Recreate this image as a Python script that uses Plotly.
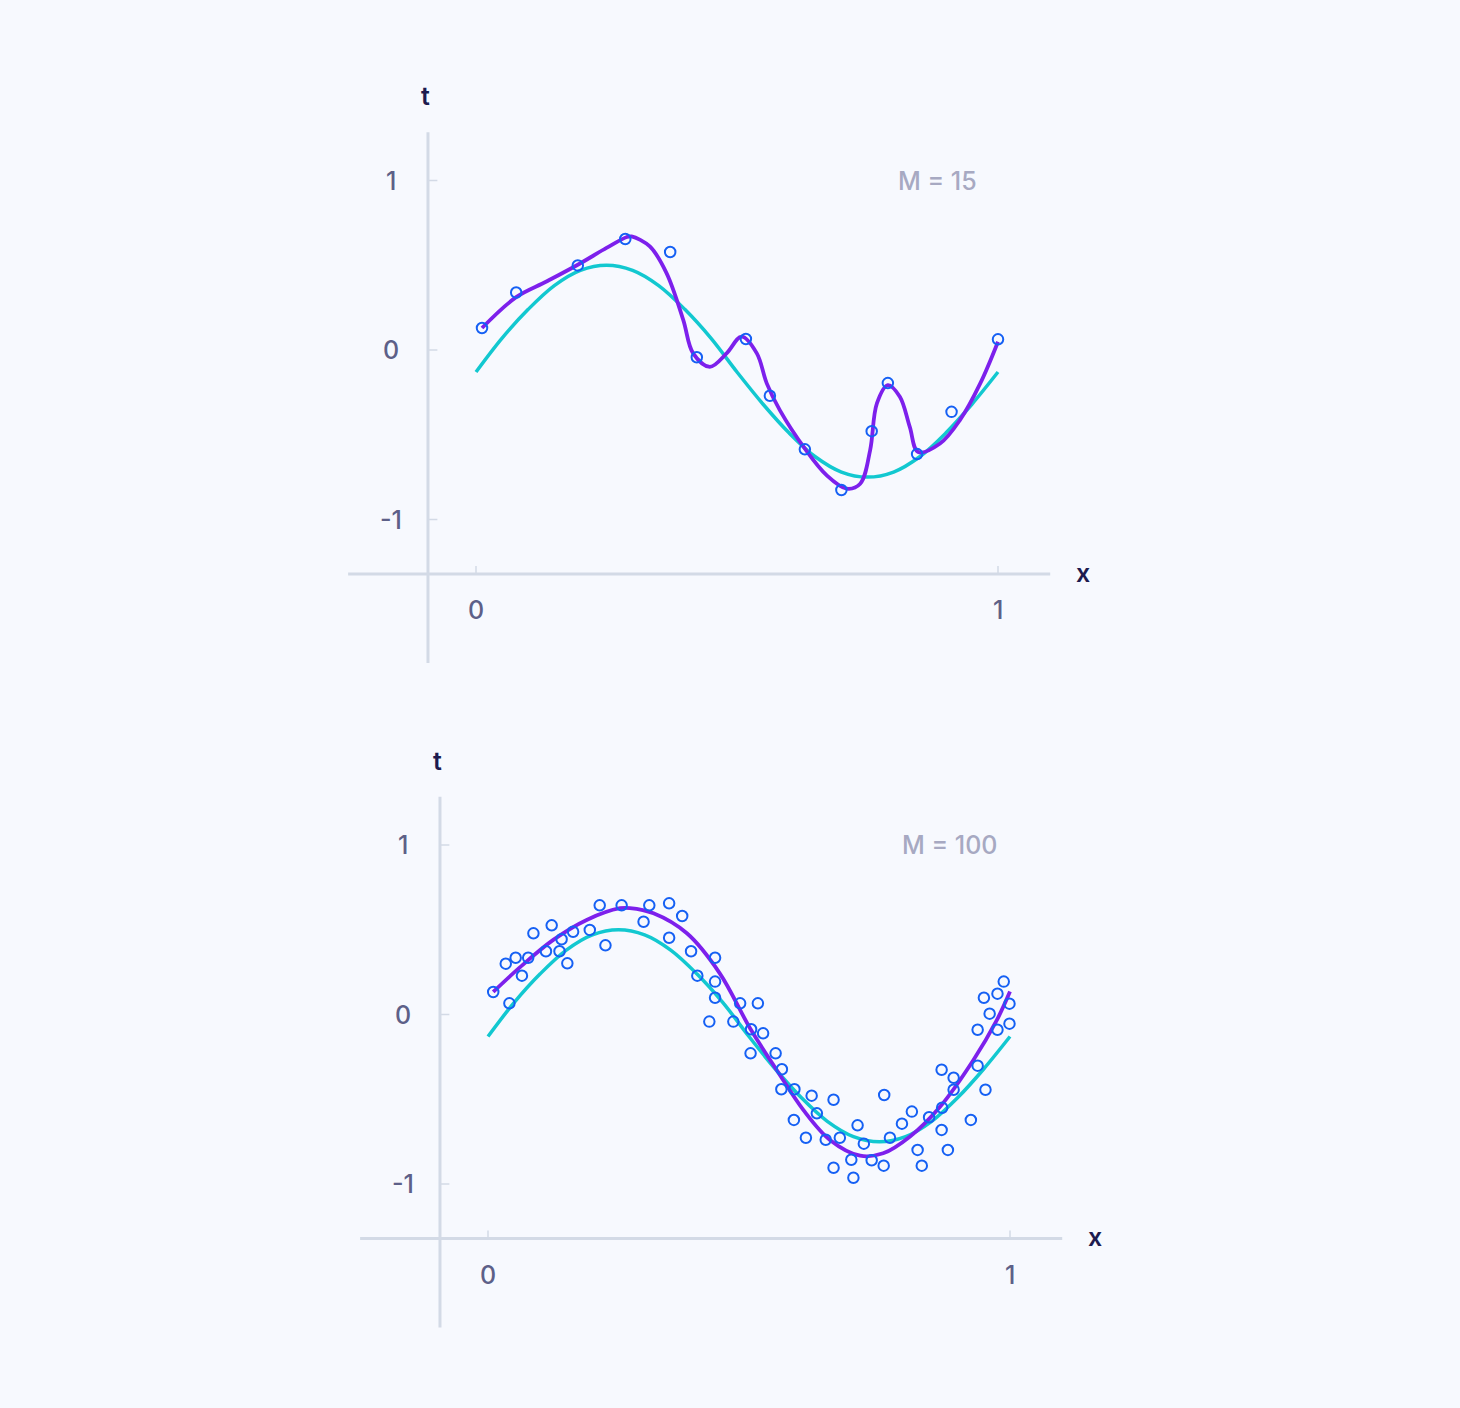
import plotly.graph_objects as go

# ---- data ----
# true curve (teal), same in both panels
true_x = [0.0, 0.05, 0.1, 0.15, 0.2, 0.25, 0.3, 0.35, 0.4, 0.45, 0.5,
          0.55, 0.6, 0.65, 0.7, 0.75, 0.8, 0.85, 0.9, 0.95, 1.0]
true_t = [-0.13, 0.07, 0.24, 0.38, 0.47, 0.50, 0.47, 0.38, 0.24, 0.07, -0.13,
          -0.32, -0.49, -0.63, -0.72, -0.75, -0.72, -0.63, -0.49, -0.32, -0.13]

# top panel: 15 samples and the overfitted fit
obs15_x = [0.0115, 0.077, 0.195, 0.286, 0.372, 0.423, 0.517, 0.563,
           0.630, 0.700, 0.758, 0.789, 0.845, 0.911, 1.0]
obs15_t = [0.130, 0.339, 0.499, 0.655, 0.578, -0.043, 0.065, -0.270,
           -0.586, -0.826, -0.479, -0.195, -0.614, -0.365, 0.063]

fit15_x = [0.0115, 0.077, 0.135, 0.195, 0.250, 0.289, 0.298, 0.333, 0.365,
           0.397, 0.416, 0.448, 0.480, 0.509, 0.538, 0.557, 0.582, 0.630,
           0.672, 0.710, 0.736, 0.755, 0.768, 0.789, 0.812, 0.831, 0.847,
           0.889, 0.927, 0.966, 1.0]
fit15_t = [0.130, 0.312, 0.404, 0.503, 0.602, 0.667, 0.670, 0.611, 0.454,
           0.178, -0.020, -0.099, -0.020, 0.079, -0.020, -0.197, -0.355, -0.582,
           -0.740, -0.818, -0.789, -0.592, -0.315, -0.207, -0.276, -0.454, -0.602,
           -0.552, -0.414, -0.197, 0.049]

# bottom panel: many samples and the smooth fit
obs100_x = [0.010, 0.041, 0.034, 0.053, 0.077, 0.065, 0.087, 0.122, 0.111, 0.141,
            0.137, 0.152, 0.163, 0.195, 0.214, 0.225, 0.256, 0.298, 0.309, 0.347,
            0.347, 0.372, 0.389, 0.401, 0.435, 0.435, 0.435, 0.424, 0.470, 0.483,
            0.503, 0.517, 0.504, 0.527, 0.551, 0.563, 0.562, 0.587, 0.620, 0.662,
            0.630, 0.586, 0.609, 0.647, 0.674, 0.708, 0.720, 0.662, 0.696, 0.700,
            0.735, 0.758, 0.759, 0.770, 0.793, 0.812, 0.845, 0.823, 0.831, 0.869,
            0.892, 0.892, 0.870, 0.869, 0.881, 0.925, 0.953, 0.938, 0.938, 0.950,
            0.961, 0.976, 0.976, 0.988, 0.999, 0.999]
obs100_t = [0.133, 0.066, 0.300, 0.335, 0.335, 0.229, 0.479, 0.526, 0.373, 0.444,
            0.373, 0.302, 0.488, 0.499, 0.644, 0.408, 0.644, 0.547, 0.644, 0.656,
            0.453, 0.581, 0.373, 0.229, 0.335, 0.194, 0.099, -0.042, -0.042, 0.066,
            -0.229, 0.066, -0.087, -0.111, -0.229, -0.323, -0.441, -0.441, -0.479, -0.503,
            -0.583, -0.622, -0.727, -0.739, -0.727, -0.654, -0.762, -0.904, -0.857, -0.963,
            -0.860, -0.892, -0.475, -0.727, -0.644, -0.573, -0.606, -0.799, -0.892, -0.326,
            -0.373, -0.444, -0.550, -0.681, -0.799, -0.622, -0.444, -0.302, -0.090, 0.099,
            0.005, -0.090, 0.123, 0.194, 0.064, -0.054]

fit100_x = [0.010, 0.061, 0.125, 0.189, 0.253, 0.272, 0.317, 0.381, 0.444, 0.502,
            0.553, 0.604, 0.655, 0.713, 0.757, 0.808, 0.866, 0.930, 0.975, 1.0]
fit100_t = [0.133, 0.278, 0.440, 0.558, 0.627, 0.628, 0.597, 0.479, 0.243, -0.081,
            -0.327, -0.563, -0.740, -0.833, -0.819, -0.721, -0.544, -0.268, -0.032, 0.135]

panel_labels = ['M = 15', 'M = 100']
ytick_vals = [1, 0, -1]
ytick_text = ['1', '0', '-1']
xtick_vals = [0, 1]
xtick_text = ['0', '1']

TEAL = '#12c8d0'
PURPLE = '#7d20ec'
BLUE = '#1560f4'
AXIS = '#d3dae6'
TICKTXT = '#5d6088'
TITLETXT = '#1d1b4f'
BG = '#f7f9fe'
FONT = 'Inter'

W, H = 1460, 1408
XR = [-0.3, 1.25]
YR = [-1.9, 1.6]

fig = go.Figure()

panels = [
    ('x', 'y', obs15_x, obs15_t, fit15_x, fit15_t),
    ('x2', 'y2', obs100_x, obs100_t, fit100_x, fit100_t),
]

for xa, ya, ox, ot, fx, ft in panels:
    fig.add_trace(go.Scatter(x=true_x, y=true_t, mode='lines', xaxis=xa, yaxis=ya,
                             line=dict(color=TEAL, width=3.5, shape='spline', smoothing=1.0),
                             hoverinfo='skip', showlegend=False))
    fig.add_trace(go.Scatter(x=fx, y=ft, mode='lines', xaxis=xa, yaxis=ya,
                             line=dict(color=PURPLE, width=3.8, shape='spline', smoothing=1.0),
                             hoverinfo='skip', showlegend=False))
    fig.add_trace(go.Scatter(x=ox, y=ot, mode='markers', xaxis=xa, yaxis=ya,
                             marker=dict(symbol='circle-open', size=10.5, color=BLUE,
                                         line=dict(width=2, color=BLUE)),
                             showlegend=False))

shapes = []
annotations = []
for i, (xa, ya) in enumerate([('x', 'y'), ('x2', 'y2')]):
    # axis lines
    shapes.append(dict(type='line', xref=xa, yref=ya, x0=-0.092, x1=-0.092, y0=-1.846, y1=1.284,
                       line=dict(color=AXIS, width=3), layer='below'))
    shapes.append(dict(type='line', xref=xa, yref=ya, x0=-0.245, x1=1.100, y0=-1.322, y1=-1.322,
                       line=dict(color=AXIS, width=3), layer='below'))
    for v, t in zip(ytick_vals, ytick_text):
        shapes.append(dict(type='line', xref=xa, yref=ya, x0=-0.092, x1=-0.074, y0=v, y1=v,
                           line=dict(color=AXIS, width=1.5), layer='below'))
        annotations.append(dict(xref=xa, yref=ya, x=-0.163, y=v, text=t, showarrow=False,
                                font=dict(family=FONT, size=25, color=TICKTXT, weight=500)))
    for v, t in zip(xtick_vals, xtick_text):
        shapes.append(dict(type='line', xref=xa, yref=ya, x0=v, x1=v, y0=-1.322, y1=-1.275,
                           line=dict(color=AXIS, width=1.5), layer='below'))
        annotations.append(dict(xref=xa, yref=ya, x=v, y=-1.535, text=t, showarrow=False,
                                font=dict(family=FONT, size=25, color=TICKTXT, weight=500)))
    annotations.append(dict(xref=xa, yref=ya, x=-0.096, y=1.497, text='t', showarrow=False,
                            font=dict(family=FONT, size=25, color=TITLETXT, weight=600)))
    annotations.append(dict(xref=xa, yref=ya, x=1.163, y=-1.314, text='x', showarrow=False,
                            font=dict(family=FONT, size=25, color=TITLETXT, weight=600)))
    annotations.append(dict(xref=xa, yref=ya, x=0.885, y=1.0, text=panel_labels[i], showarrow=False,
                            font=dict(family=FONT, size=25, color='#a7a9c2', weight=500)))

# pixel placement: data 0 -> 476 px (top) / 488 px (bottom), 1 unit = 522 px wide, 169.5 px tall
def xdom(px0):
    return [(px0 + XR[0] * 522) / W, (px0 + XR[1] * 522) / W]

def ydom(py0):
    top = py0 - YR[1] * 169.5
    bot = py0 - YR[0] * 169.5
    return [1 - bot / H, 1 - top / H]

axis_off = dict(showgrid=False, zeroline=False, showticklabels=False, showline=False, ticks='')
fig.update_layout(
    width=W, height=H, autosize=False,
    margin=dict(l=0, r=0, t=0, b=0),
    paper_bgcolor=BG, plot_bgcolor='rgba(0,0,0,0)',
    xaxis=dict(domain=xdom(476), range=XR, anchor='y', **axis_off),
    yaxis=dict(domain=ydom(350), range=YR, anchor='x', **axis_off),
    xaxis2=dict(domain=xdom(488), range=XR, anchor='y2', **axis_off),
    yaxis2=dict(domain=ydom(1014.5), range=YR, anchor='x2', **axis_off),
    shapes=shapes, annotations=annotations,
)

fig.write_html('out.html', config={'displayModeBar': False},
               post_script="document.body.style.margin='0';document.body.style.background='%s';" % BG)
